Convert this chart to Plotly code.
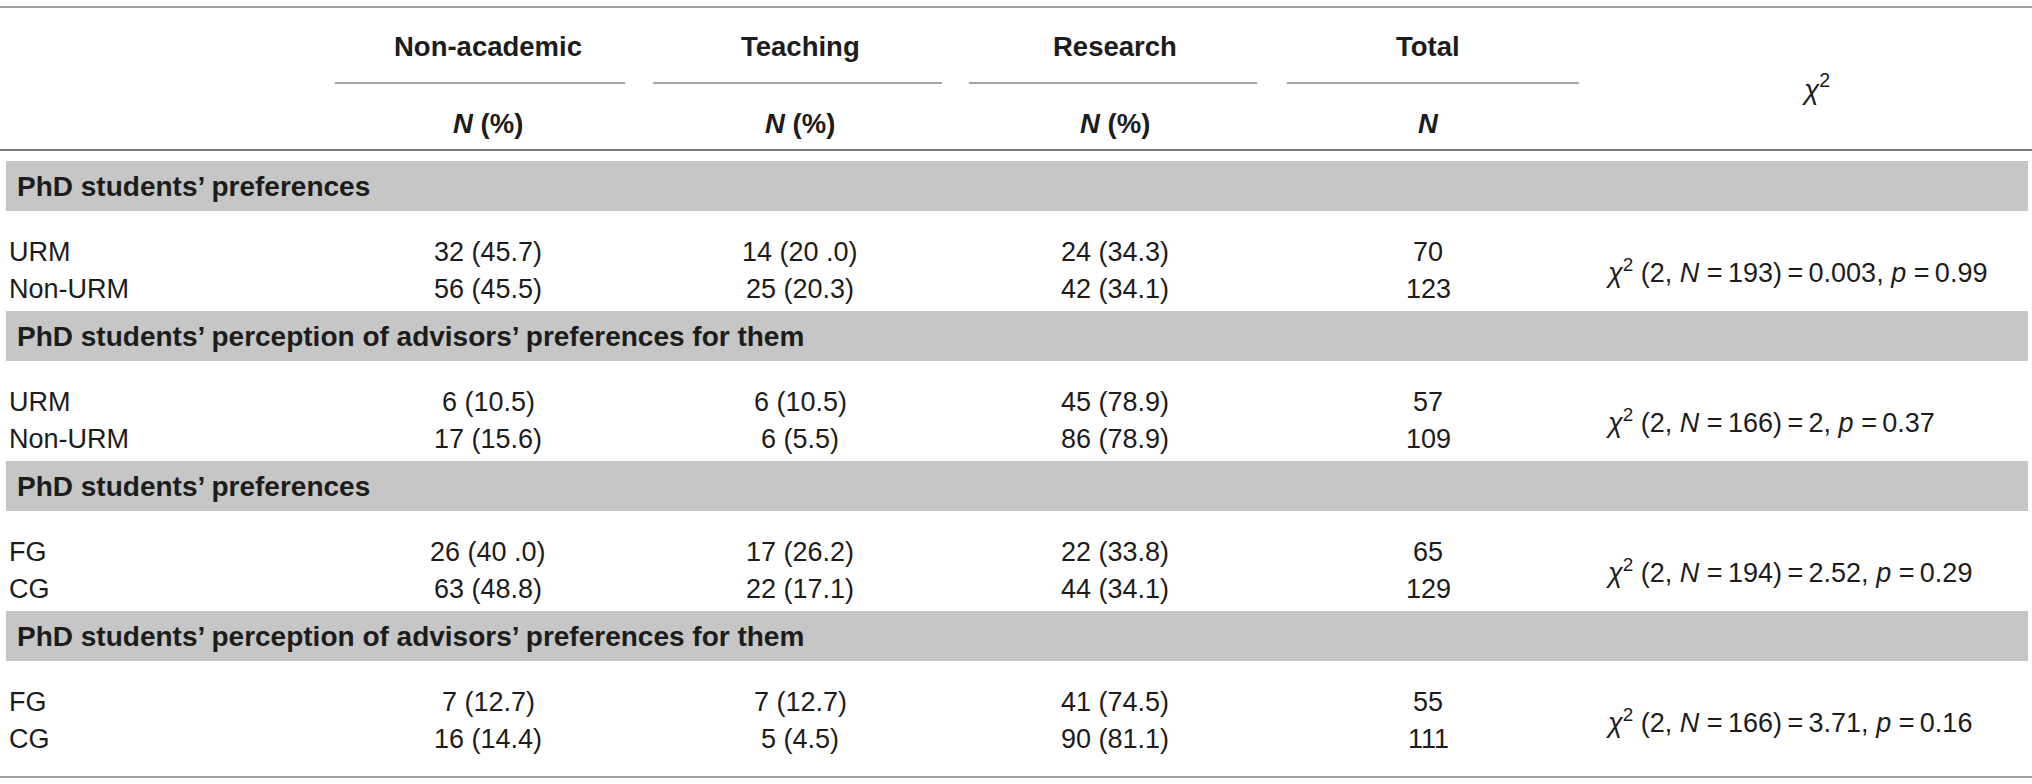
import plotly.graph_objects as go

# table content
col_heads = ["Non-academic", "Teaching", "Research", "Total"]
sub_heads = ["<i>N</i> (%)", "<i>N</i> (%)", "<i>N</i> (%)", "<i>N</i>"]
sections = [
    "PhD students’ preferences",
    "PhD students’ perception of advisors’ preferences for them",
    "PhD students’ preferences",
    "PhD students’ perception of advisors’ preferences for them",
]
groups = [["URM", "Non-URM"], ["URM", "Non-URM"], ["FG", "CG"], ["FG", "CG"]]
non_academic = [["32 (45.7)", "56 (45.5)"], ["6 (10.5)", "17 (15.6)"],
                ["26 (40 .0)", "63 (48.8)"], ["7 (12.7)", "16 (14.4)"]]
teaching = [["14 (20 .0)", "25 (20.3)"], ["6 (10.5)", "6 (5.5)"],
            ["17 (26.2)", "22 (17.1)"], ["7 (12.7)", "5 (4.5)"]]
research = [["24 (34.3)", "42 (34.1)"], ["45 (78.9)", "86 (78.9)"],
            ["22 (33.8)", "44 (34.1)"], ["41 (74.5)", "90 (81.1)"]]
totals = [[70, 123], [57, 109], [65, 129], [55, 111]]
chi_n = [193, 166, 194, 166]
chi_val = ["0.003", "2", "2.52", "3.71"]
chi_p = ["0.99", "0.37", "0.29", "0.16"]

# page geometry (pixels)
W, H = 2032, 784
col_x = [488, 800, 1115, 1428]
rule_x = [(335, 625), (653, 942), (969, 1257), (1287, 1579)]
chi_x = 1815
chi_left = 1604
band_top0 = 161
block = 150
band_h = 50
row_off = [91, 128]

FONT = "Liberation Sans"
TXT = "#1c1c1c"
GRID = "#8c8c8c"
BAND = "#c5c6c5"
TS = "\u2009"  # thin space

fig = go.Figure()
ann = []
shapes = []


def text(x, y, s, size=27, bold=False, anchor="center"):
    if bold:
        s = "<b>" + s + "</b>"
    ann.append(dict(x=x, y=y, xref="x", yref="y", text=s, showarrow=False,
                    xanchor=anchor, yanchor="middle",
                    font=dict(family=FONT, size=size, color=TXT)))


def hline(x0, x1, y, w=2, color=GRID):
    shapes.append(dict(type="line", xref="x", yref="y", x0=x0, x1=x1, y0=y, y1=y,
                       line=dict(color=color, width=w)))


# header
hline(0, W, 7, 2, "#a0a0a0")
for i, h in enumerate(col_heads):
    text(col_x[i], 46, h, 27.5, True)
    text(col_x[i], 123, sub_heads[i], 27.5, True)
    hline(rule_x[i][0], rule_x[i][1], 83, 2, "#a4a4a4")
text(chi_x, 87, "<i>χ</i><sup>2</sup>", 28)
hline(0, W, 150, 2, "#7a7a7a")

# body
for k in range(len(sections)):
    top = band_top0 + block * k
    shapes.append(dict(type="rect", xref="x", yref="y", x0=6, x1=W - 4,
                       y0=top, y1=top + band_h, fillcolor=BAND, line=dict(width=0),
                       layer="below"))
    text(15, top + band_h / 2, sections[k], 28, True, "left")
    for r in range(2):
        y = top + row_off[r]
        text(7, y, groups[k][r], 27, False, "left")
        text(col_x[0], y, non_academic[k][r])
        text(col_x[1], y, teaching[k][r])
        text(col_x[2], y, research[k][r])
        text(col_x[3], y, str(totals[k][r]))
    chi = ("<i>χ</i><sup>2</sup> (2, <i>N</i> =" + TS + "%d)" + TS + "=" + TS + "%s, <i>p</i> =" + TS + "%s") \
        % (chi_n[k], chi_val[k], chi_p[k])
    text(chi_left, top + sum(row_off) / 2, chi, 27, False, "left")

hline(0, W, 777, 2, "#a0a0a0")

fig.update_layout(
    width=W, height=H, margin=dict(l=0, r=0, t=0, b=0),
    paper_bgcolor="white", plot_bgcolor="white",
    annotations=ann, shapes=shapes, showlegend=False,
)
fig.update_xaxes(range=[0, W], visible=False, fixedrange=True)
fig.update_yaxes(range=[H, 0], visible=False, fixedrange=True)

fig.write_html("out.html", config={"displayModeBar": False},
               post_script="document.body.style.margin='0';document.body.style.overflow='hidden';")
